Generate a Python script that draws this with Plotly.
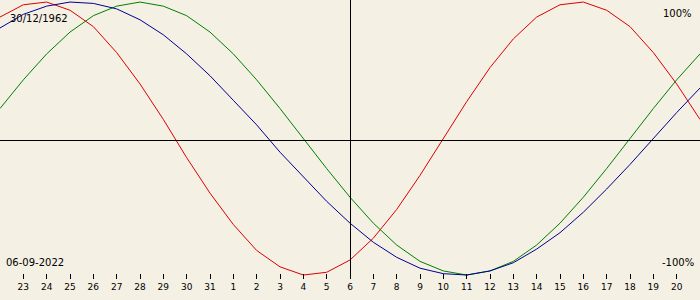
import plotly.graph_objects as go

# Day labels, Aug 22 .. Sep 21 (2022)
day_labels = [22, 23, 24, 25, 26, 27, 28, 29, 30, 31,
              1, 2, 3, 4, 5, 6, 7, 8, 9, 10,
              11, 12, 13, 14, 15, 16, 17, 18, 19, 20, 21]
# values in percent
physical = [89, 98, 100, 94, 82, 63, 40, 14, -14, -40, -63, -82, -94, -100, -98, -89,
            -73, -52, -27, 0, 27, 52, 73, 89, 98, 100, 94, 82, 63, 40, 14]
emotional = [22, 43, 62, 78, 90, 97, 100, 97, 90, 78, 62, 43, 22, 0, -22, -43,
             -62, -78, -90, -97, -100, -97, -90, -78, -62, -43, -22, 0, 22, 43, 62]
intellectual = [81, 91, 97, 100, 99, 95, 87, 76, 62, 46, 28, 10, -10, -28, -46, -62,
                -76, -87, -95, -99, -100, -97, -91, -81, -69, -54, -37, -19, 0, 19, 37]
birth_text = "30/12/1962"
date_text = "06-09-2022"
today_label = 6

xs = list(range(-1, len(day_labels) - 1))
today_x = xs[day_labels.index(today_label)]
tick_vals = xs[1:-1]
tick_text = [str(d) for d in day_labels[1:-1]]

fig = go.Figure()
for vals, col in [(physical, "#dd0000"), (emotional, "#008000"), (intellectual, "#000090")]:
    fig.add_trace(go.Scatter(x=xs, y=vals, mode="lines",
                             line=dict(color=col, width=1), hoverinfo="skip"))

# axis cross lines (offset half a pixel for crisp rendering)
px_per_day = 30 / 700
fig.add_shape(type="line", xref="paper", yref="paper", x0=0, x1=1,
              y0=1 - 140.5 / 300, y1=1 - 140.5 / 300,
              line=dict(color="black", width=1))
fig.add_shape(type="line", xref="x", yref="paper",
              x0=today_x + 0.5 * px_per_day, x1=today_x + 0.5 * px_per_day,
              y0=(300 - 279) / 300, y1=1, line=dict(color="black", width=1))

font = "DejaVu Sans, Verdana, sans-serif"
ann = [
    dict(text=birth_text, x=8 / 700, y=1 - 18 / 300, xanchor="left", yanchor="middle"),
    dict(text="100%", x=694 / 700, y=1 - 13 / 300, xanchor="right", yanchor="middle"),
    dict(text=date_text, x=4 / 700, y=1 - 262 / 300, xanchor="left", yanchor="middle"),
    dict(text="-100%", x=696 / 700, y=1 - 262 / 300, xanchor="right", yanchor="middle"),
]
for a in ann:
    fig.add_annotation(xref="paper", yref="paper", showarrow=False,
                       font=dict(family=font, size=10, color="black"), **a)

fig.update_layout(
    width=700, height=300,
    margin=dict(l=0, r=0, t=0, b=0),
    paper_bgcolor="#f4f0e4", plot_bgcolor="rgba(0,0,0,0)",
    showlegend=False,
    xaxis=dict(range=[-1, 29], anchor="free", position=(300 - 273) / 300,
               tickvals=tick_vals, ticktext=tick_text, ticks="outside", ticklen=5,
               tickcolor="black", tickwidth=1, showgrid=False, zeroline=False,
               showline=False, tickfont=dict(family=font, size=9, color="black")),
    yaxis=dict(range=[-118.3, 101.5], domain=[0, 1], visible=False, showgrid=False),
)
fig.write_html("out.html")
